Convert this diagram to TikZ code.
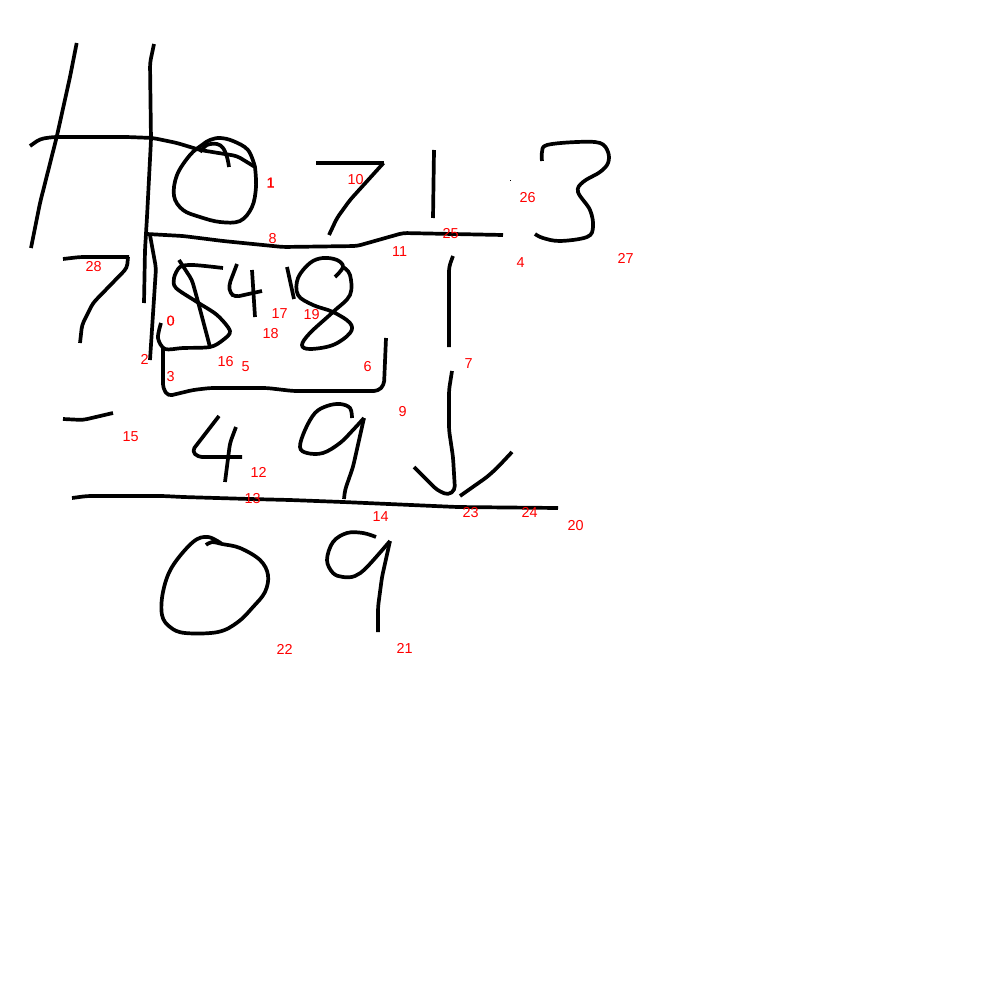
\documentclass[tikz,border=0pt]{standalone}
\usepackage{fontspec}
\setmainfont{Liberation Sans}
\newfontfamily\thicknum[FakeBold=0.6]{Liberation Sans}
\begin{document}
\begin{tikzpicture}[x=1pt, y=-1pt]
\tikzset{ink/.style = {draw = black, line width = 3.7pt, line join = round, rounded corners = 4pt},
         curve/.style = {draw = black, line width = 3.7pt, line join = round},
         num/.style = {text = red, inner sep = 0pt, xshift = 0.6pt, yshift = -0.6pt, font = \fontsize{14.4}{14}\selectfont},
         thicknumber/.style = {num, font = \fontsize{14.4}{14}\thicknum}}
\useasboundingbox (0, 0) rectangle (1000, 1000);
\fill[white] (0, 0) rectangle (1000, 1000);
% first row
\path[ink] (76.7, 43) -- (70, 77) -- (56.7, 137) -- (40, 203) -- (31, 248);
\path[ink] (154, 44) -- (150, 63) -- (151, 140) -- (147, 217) -- (145, 250) -- (144, 303);
\path[ink] (150, 235) -- (156, 268) -- (150, 360);
\path[ink] (30, 146) -- (40, 139) -- (53, 137) -- (127, 137) -- (153, 138) -- (177, 143) -- (200, 150) -- (237, 156) -- (255, 167);
\path[curve] plot[smooth, tension = 0.6] coordinates {(255, 167) (256, 187) (252, 207) (240, 221) (220, 222) (200, 217) (183, 210) (174, 196) (177, 175) (190, 155) (202, 145) (210, 140) (220, 138) (233, 141) (248, 150) (255, 167)};
\path[curve] plot[smooth, tension = 0.6] coordinates {(200, 152) (207, 145) (217, 144) (223, 148) (227, 157) (229, 167)};
\path[ink] (316, 163) -- (383.5, 163);
\path[ink] (383.5, 163) -- (350, 200) -- (337, 218) -- (329, 235);
\path[ink] (434, 150) -- (433, 218);
\path[curve] plot[smooth, tension = 0.6] coordinates {(542, 161) (542, 152) (547, 145) (577, 142) (600, 143) (608, 152) (608, 163) (600, 172) (583, 182) (578, 192) (590, 210) (593, 227) (587, 237) (560, 241) (543, 238) (535, 234)};
\fill[black] (510, 180) rectangle (511, 181);
% division line
\path[ink] (147, 234) -- (183, 236) -- (223, 241) -- (283, 247) -- (357, 246) -- (403, 233) -- (503, 235);
% second row
\path[ink] (63, 259) -- (80, 257) -- (129, 257);
\path[ink] (128, 257) -- (127, 268) -- (93, 303) -- (82, 325) -- (80, 343);
\path[ink] (179, 260) -- (192, 280) -- (197, 298) -- (210, 347);
\path[curve] plot[smooth, tension = 0.5] coordinates {(223, 268) (193, 265) (180, 267) (174, 278) (176, 288) (197, 302) (217, 315) (230, 331) (223, 340) (210, 347) (183, 348) (165, 349) (158, 338) (161, 323)};
\path[ink] (163, 347) -- (163, 388) -- (168, 396) -- (193, 390) -- (210, 388) -- (267, 388) -- (293, 391) -- (378, 391) -- (384, 385) -- (386, 338);
\path[ink] (237, 264) -- (229, 285) -- (230, 293) -- (235, 297) -- (262, 291);
\path[ink] (252, 270) -- (255, 317);
\path[ink] (287, 267) -- (294, 299);
\path[curve] plot[smooth, tension = 0.6] coordinates {(335, 277) (343, 267) (337, 260) (323, 258) (310, 263) (298, 278) (298, 295) (313, 305) (333, 312) (350, 323) (350, 333) (333, 345) (310, 349) (302, 345) (310, 333) (333, 312) (350, 295) (350, 275) (343, 267)};
\path[ink] (453, 256) -- (449, 267) -- (449, 347);
% third row
\path[ink] (63, 419) -- (83, 420) -- (113, 413);
\path[ink] (219, 416) -- (192, 451) -- (198, 457) -- (242, 457);
\path[ink] (236, 427) -- (230, 443) -- (225, 482);
\path[curve] plot[smooth, tension = 0.6] coordinates {(352, 418) (350, 408) (340, 404) (327, 406) (315, 413) (305, 430) (300, 447) (307, 453) (323, 453) (340, 443) (353, 430) (364, 418)};
\path[ink] (364, 418) -- (353, 467) -- (345, 490) -- (344, 499);
\path[ink] (452, 371) -- (449, 390) -- (449, 430) -- (453, 457) -- (455, 490) -- (448, 495) -- (437, 490) -- (414, 467);
\path[ink] (460, 496) -- (487, 477) -- (497, 468) -- (512, 452);
\path[ink] (72, 498) -- (87, 496) -- (163, 496) -- (183, 497) -- (250, 499) -- (290, 500) -- (343, 502) -- (457, 507) -- (558, 508);
% result
\path[curve] plot[smooth, tension = 0.6] coordinates {(206, 545) (212, 542) (222, 544) (240, 548) (260, 560) (268, 575) (265, 592) (253, 607) (238, 622) (218, 632) (185, 633) (170, 627) (162, 615) (163, 592) (172, 567) (193, 542) (208, 537) (222, 544)};
\path[curve] plot[smooth, tension = 0.6] coordinates {(376, 537) (363, 533) (347, 533) (333, 542) (327, 560) (333, 573) (343, 577) (355, 576) (367, 567) (390, 541)};
\path[ink] (390, 541) -- (382, 577) -- (378, 607) -- (378, 632);
% red numbers
\node[thicknumber] (n0) at (170, 320) {0};
\node[thicknumber] (n1) at (270, 182) {1};
\node[num] (n2) at (144, 359) {2};
\node[num] (n3) at (170, 376) {3};
\node[num] (n4) at (520, 262) {4};
\node[num] (n5) at (245, 366) {5};
\node[num] (n6) at (367, 366) {6};
\node[num] (n7) at (468, 363) {7};
\node[num] (n8) at (272, 238) {8};
\node[num] (n9) at (402, 411) {9};
\node[num] (n10) at (355, 179) {10};
\node[num] (n11) at (399, 251) {11};
\node[num] (n12) at (258, 472) {12};
\node[num] (n13) at (252, 498) {13};
\node[num] (n14) at (380, 516) {14};
\node[num] (n15) at (130, 436) {15};
\node[num] (n16) at (225, 361) {16};
\node[num] (n17) at (279, 313) {17};
\node[num] (n18) at (270, 333) {18};
\node[num] (n19) at (311, 314) {19};
\node[num] (n20) at (575, 525) {20};
\node[num] (n21) at (404, 648) {21};
\node[num] (n22) at (284, 649) {22};
\node[num] (n23) at (470, 512) {23};
\node[num] (n24) at (529, 512) {24};
\node[num] (n25) at (450, 233) {25};
\node[num] (n26) at (527, 197) {26};
\node[num] (n27) at (625, 258) {27};
\node[num] (n28) at (93, 266) {28};
\end{tikzpicture}
\end{document}
